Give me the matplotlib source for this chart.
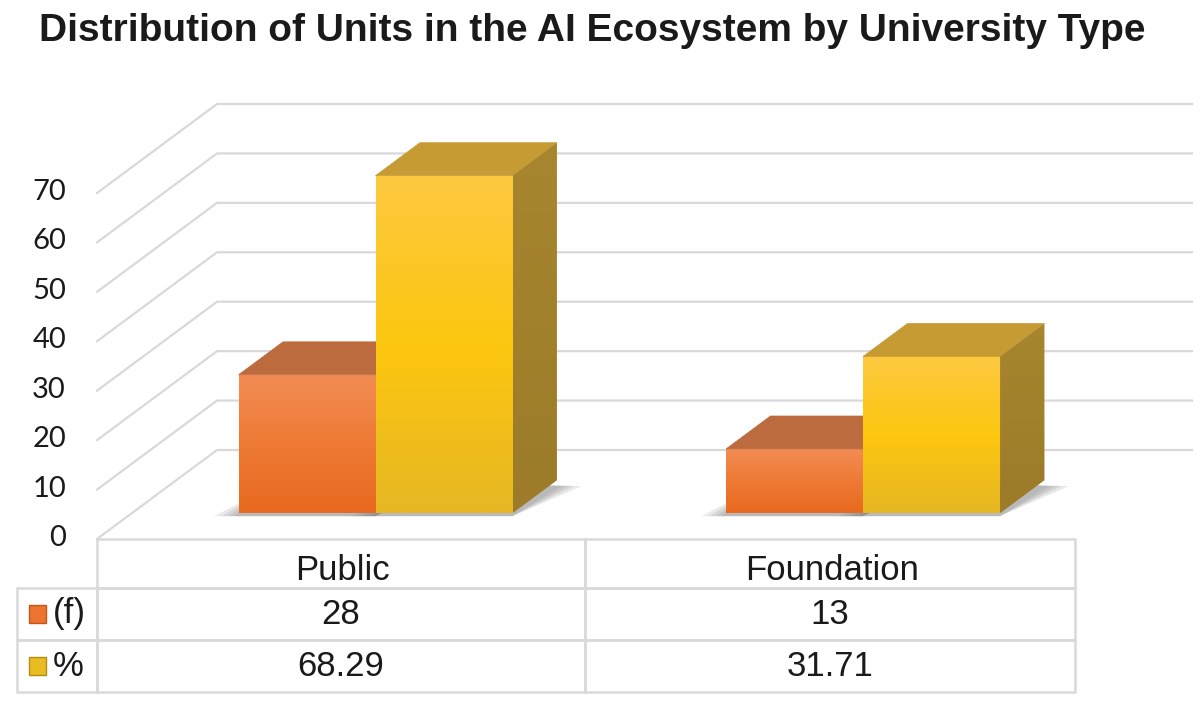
import numpy as np
import matplotlib
matplotlib.use('Agg')
import matplotlib.pyplot as plt
from matplotlib.patches import Polygon, Rectangle
from matplotlib.colors import LinearSegmentedColormap
from matplotlib.table import Table

categories = ['Public', 'Foundation']
freq = [28, 13]
pct = [68.29, 31.71]
series = ['(f)', '%']
yticks = [0, 10, 20, 30, 40, 50, 60, 70]
title = 'Distribution of Units in the AI Ecosystem by University Type'

W, H = 1200, 704
fig = plt.figure(figsize=(12, 7.04), dpi=100)
ax = fig.add_axes([0, 0, 1, 1])
ax.set_axis_off()

# pixel scale of the plot area (front plane)
sx, sy = 487.5, 4.943
x_front0, y_front0 = 97, 539
xlim = (-0.5 - x_front0 / sx, -0.5 + (W - x_front0) / sx)
ylim = (-(H - y_front0) / sy, y_front0 / sy)

DX, DY = 120 / sx, 89 / sy   # full depth of the floor
d0, bd = 0.29, 0.37          # bar start depth and bar depth
bw = 0.281
grid_c = '#D9D9D9'
txt_c = '#1a1a1a'

# back wall gridlines and side wall diagonals
for v in yticks:
    ax.plot([-0.5, -0.5 + DX, 1.5 + DX], [v, v + DY, v + DY], color=grid_c,
            lw=1.6, zorder=1, solid_joinstyle='miter')
    ax.annotate(str(v), (-0.5, v), xytext=(-31, 1), textcoords='offset pixels',
                ha='right', va='center', fontsize=21, family='Lato', color=txt_c)


def grad_face(verts, cols, z):
    cm = LinearSegmentedColormap.from_list('g', cols)
    g = np.linspace(0, 1, 256).reshape(-1, 1)
    xs = [p[0] for p in verts]
    ys = [p[1] for p in verts]
    im = ax.imshow(g, cmap=cm, extent=[min(xs), max(xs), min(ys), max(ys)],
                   origin='lower', aspect='auto', zorder=z, interpolation='bilinear')
    clip = Polygon(verts, closed=True, transform=ax.transData)
    im.set_clip_path(clip)


styles = [
    # front (bottom -> top), top face, side (bottom -> top)
    (['#E8691F', '#EE7A35', '#F38D55'], '#BC6B3F', ['#A35428', '#B0602F']),
    (['#E6B724', '#FDC70F', '#FCC940'], '#C79B33', ['#9C7B29', '#A8862F']),
]

base = d0 * DY
for i in range(len(categories)):
    for j, vals in enumerate([freq, pct]):
        v = vals[i]
        x0 = i + d0 * DX + (j - 1) * bw
        x1 = x0 + bw
        top = base + v
        z = 3 + i * 10 + j * 4
        front_c, top_c, side_c = styles[j]
        # soft floor shadow
        for k, e in enumerate([0.05, 0.035, 0.022, 0.01]):
            shp = [(x0 - e, base - 0.6), (x1, base - 0.6),
                   (x1 + bd * DX + e, base + bd * DY - 1.2), (x0 + bd * DX, base + bd * DY)]
            ax.add_patch(Polygon(shp, closed=True, fc='#6f6f6f', ec='none',
                                 alpha=0.15, zorder=2))
        front = [(x0, base), (x1, base), (x1, top), (x0, top)]
        grad_face(front, front_c, z)
        top_face = [(x0, top), (x1, top), (x1 + bd * DX, top + bd * DY), (x0 + bd * DX, top + bd * DY)]
        ax.add_patch(Polygon(top_face, closed=True, fc=top_c, ec=top_c, lw=0.5, zorder=z + 1))
        side = [(x1, base), (x1, top), (x1 + bd * DX, top + bd * DY), (x1 + bd * DX, base + bd * DY)]
        grad_face(side, side_c, z - 1 if j == 0 else z + 1)

# data table below the plot
tb = Table(ax, bbox=[17 / W, (H - 692) / H, (1075 - 17) / W, (692 - 539) / H])
colw = [80, 488, 490]
rowh = [49, 52, 52]
rows = [[''] + categories,
        [series[0]] + [str(f) for f in freq],
        [series[1]] + [f'{p:.2f}' for p in pct]]
for r in range(3):
    for c in range(3):
        if r == 0 and c == 0:
            continue
        cell = tb.add_cell(r, c, width=colw[c], height=rowh[r],
                           text='' if r == 0 else rows[r][c],
                           loc='left' if c == 0 else 'center',
                           edgecolor=grid_c, facecolor='none')
        cell.set_linewidth(1.8)
        t = cell.get_text()
        t.set_fontsize(25)
        t.set_family('Liberation Sans')
        t.set_color(txt_c)
        if c == 0:
            cell.PAD = 0.45
tb.auto_set_font_size(False)
ax.add_table(tb)

# category header, sits a little low in its cell as in Excel
for c, name in enumerate(categories):
    cx = (97 + 490 * c + 245) / W
    ax.text(cx, 1 - 570 / H, name, transform=ax.transAxes, ha='center', va='center',
            fontsize=25, family='Liberation Sans', color=txt_c)

# legend keys in the table
key_cols = [('#EC7330', '#C25718'), ('#E9BC22', '#B38E17')]
for k, (fc, ec) in enumerate(key_cols):
    yc = 614 + k * 52
    ax.add_patch(Rectangle((29 / W, (H - yc - 9) / H), 17 / W, 18 / H, fc=fc, ec=ec,
                           lw=1, transform=ax.transAxes, zorder=5))

fig.text(592 / W, 1 - 31 / H, title, ha='center', va='center', fontsize=28,
         fontweight='bold', family='Liberation Sans', color=txt_c)

ax.set_xlim(*xlim)
ax.set_ylim(*ylim)
fig.savefig('out.png', dpi=100, facecolor='white')
